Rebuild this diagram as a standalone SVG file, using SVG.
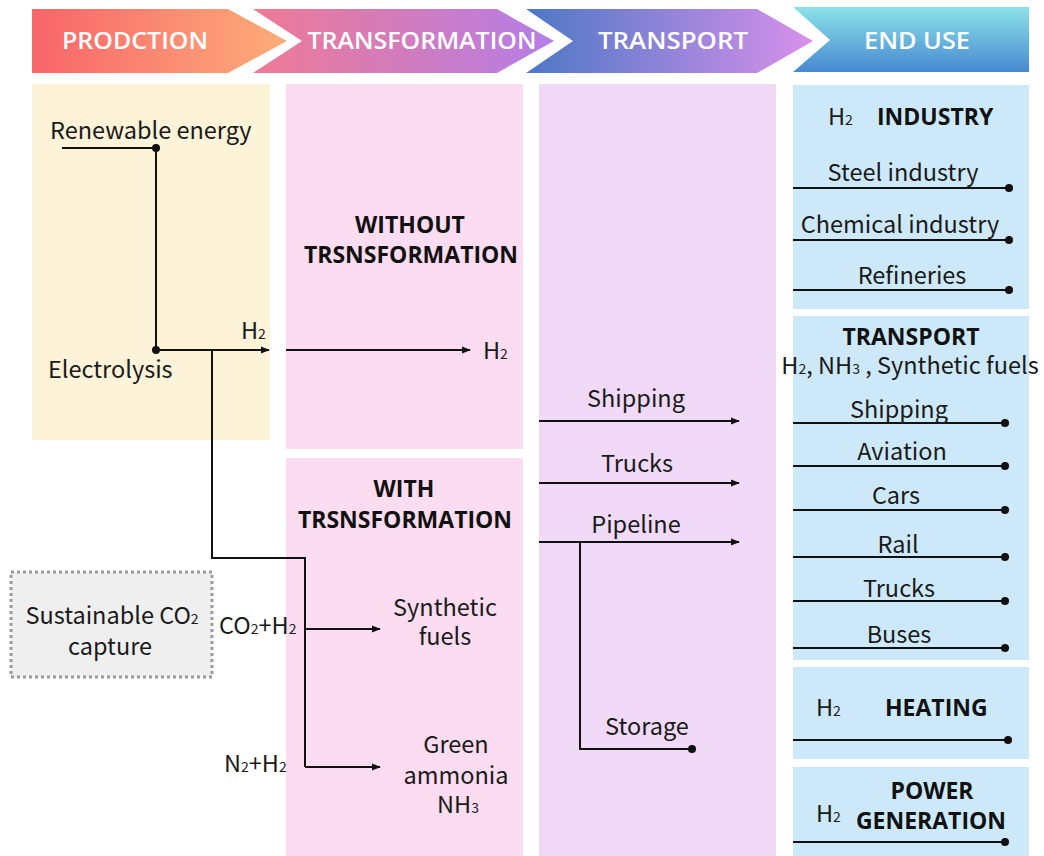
<svg xmlns="http://www.w3.org/2000/svg" width="1044" height="856" viewBox="0 0 1044 856">
<defs>
<linearGradient id="g1" x1="0" y1="0" x2="1" y2="0"><stop offset="0" stop-color="#f8656a"/><stop offset="1" stop-color="#fdad7a"/></linearGradient>
<linearGradient id="g2" x1="0" y1="0" x2="1" y2="0"><stop offset="0" stop-color="#ef7a94"/><stop offset="1" stop-color="#b47ee8"/></linearGradient>
<linearGradient id="g3" x1="0" y1="0" x2="1" y2="0"><stop offset="0" stop-color="#4d78c6"/><stop offset="1" stop-color="#d890ea"/></linearGradient>
<linearGradient id="g4" x1="0" y1="0" x2="0" y2="1"><stop offset="0" stop-color="#8ce3ea"/><stop offset="1" stop-color="#4788d0"/></linearGradient>
<marker id="arr" viewBox="0 0 10 10" refX="9" refY="5" markerWidth="9" markerHeight="9" markerUnits="userSpaceOnUse" orient="auto"><path d="M0,1 L10,5 L0,9 Z" fill="#111"/></marker>
<marker id="dot" viewBox="0 0 10 10" refX="5" refY="5" markerWidth="9" markerHeight="9" markerUnits="userSpaceOnUse"><circle cx="5" cy="5" r="4.5" fill="#111"/></marker>
</defs>
<style>
.hd{font-family:"Open Sans","Noto Sans",sans-serif;font-weight:600;font-size:23px;fill:#fff;text-anchor:middle}
.t{font-family:"Noto Sans CJK SC","Noto Sans",sans-serif;font-size:23.5px;fill:#1a1a1a}
.c{text-anchor:middle}
.b{font-family:"Open Sans","Noto Sans",sans-serif;font-weight:700;font-size:23px;fill:#111}
.s{font-size:14px}
.ln{fill:none;stroke:#111;stroke-width:2}
.a{marker-end:url(#arr)}
.d{marker-end:url(#dot)}
</style>
<rect width="1044" height="856" fill="#fff"/>

<g id="header">
<path d="M32,9 L228,9 L287,41 L228,73 L32,73 Z" fill="url(#g1)"/>
<path d="M253,9 L497,9 L554,41 L497,73 L253,73 L302,41 Z" fill="url(#g2)"/>
<path d="M526,9 L757,9 L813,41 L757,73 L526,73 L573,41 Z" fill="url(#g3)"/>
<path d="M793,7 L1029,7 L1029,72 L793,72 L830,40 Z" fill="url(#g4)"/>
<text class="hd" x="135" y="49" textLength="146" lengthAdjust="spacingAndGlyphs">PRODCTION</text>
<text class="hd" x="422" y="49" textLength="229" lengthAdjust="spacingAndGlyphs">TRANSFORMATION</text>
<text class="hd" x="673" y="49" textLength="150" lengthAdjust="spacingAndGlyphs">TRANSPORT</text>
<text class="hd" x="917" y="49" textLength="106" lengthAdjust="spacingAndGlyphs">END USE</text>
</g>

<g id="col-production"><rect x="32" y="84" width="238" height="356" fill="#fdf3d8"/></g>
<g id="col-transformation">
<rect x="286" y="84" width="237" height="365" fill="#fcdcf0"/>
<rect x="286" y="458" width="237" height="398" fill="#fcdcf0"/>
</g>
<g id="col-transport"><rect x="539" y="84" width="237" height="772" fill="#f0daf7"/></g>
<g id="col-enduse">
<rect x="793" y="85" width="236" height="224" fill="#cde9f9"/>
<rect x="793" y="316" width="236" height="344" fill="#cde9f9"/>
<rect x="793" y="667" width="236" height="92" fill="#cde9f9"/>
<rect x="793" y="767" width="236" height="89" fill="#cde9f9"/>
</g>

<g id="connectors">
<path class="ln" d="M62,148 L156,148 L156,350"/>
<path class="ln a" d="M156,350 L269,350"/>
<circle cx="156" cy="148" r="4" fill="#111"/>
<circle cx="156" cy="350" r="4" fill="#111"/>
<path class="ln a" d="M286,350 L470,350"/>
<path class="ln" d="M212,350 L212,558 L305,558 L305,767"/>
<path class="ln a" d="M305,629 L380,629"/>
<path class="ln a" d="M305,767 L380,767"/>
<path class="ln a" d="M539,421 L739,421"/>
<path class="ln a" d="M539,483 L739,483"/>
<path class="ln a" d="M539,542 L739,542"/>
<path class="ln d" d="M580,542 L580,749 L692,749"/>
<path class="ln d" d="M793,188 L1009,188"/>
<path class="ln d" d="M793,240 L1009,240"/>
<path class="ln d" d="M793,290 L1009,290"/>
<path class="ln d" d="M793,423 L1005,423"/>
<path class="ln d" d="M793,466 L1005,466"/>
<path class="ln d" d="M793,510 L1005,510"/>
<path class="ln d" d="M793,557 L1005,557"/>
<path class="ln d" d="M793,601 L1005,601"/>
<path class="ln d" d="M793,648 L1005,648"/>
<path class="ln d" d="M793,740 L1008,740"/>
<path class="ln d" d="M793,842 L1005,842"/>
</g>

<g id="renewable"><text class="t" x="50" y="139">Renewable energy</text></g>
<g id="electrolysis"><text class="t" x="48" y="378">Electrolysis</text></g>
<g id="h2-prod"><text class="t" x="241" y="339">H<tspan class="s">2</tspan></text></g>
<g id="without"><text class="b c"><tspan x="410" y="233">WITHOUT</tspan><tspan x="411" y="263">TRSNSFORMATION</tspan></text></g>
<g id="h2-out"><text class="t" x="483" y="359">H<tspan class="s">2</tspan></text></g>
<g id="with"><text class="b c"><tspan x="404" y="497">WITH</tspan><tspan x="405" y="528">TRSNSFORMATION</tspan></text></g>
<g id="co2-capture">
<rect x="11" y="572" width="201" height="105" fill="#efefef" stroke="#9a9a9a" stroke-width="3" stroke-dasharray="3,3"/>
<text class="t c"><tspan x="112" y="624">Sustainable CO<tspan class="s">2</tspan></tspan><tspan x="110" y="655">capture</tspan></text>
</g>
<g id="co2h2"><text class="t" x="219" y="634">CO<tspan class="s">2</tspan>+H<tspan class="s">2</tspan></text></g>
<g id="n2h2"><text class="t" x="224" y="772">N<tspan class="s">2</tspan>+H<tspan class="s">2</tspan></text></g>
<g id="synthetic"><text class="t c"><tspan x="445" y="616">Synthetic</tspan><tspan x="445" y="645">fuels</tspan></text></g>
<g id="ammonia"><text class="t c"><tspan x="456" y="753">Green</tspan><tspan x="456" y="784">ammonia</tspan><tspan x="458" y="813">NH<tspan class="s">3</tspan></tspan></text></g>
<g id="tr-shipping"><text class="t c" x="636" y="407">Shipping</text></g>
<g id="tr-trucks"><text class="t c" x="637" y="472">Trucks</text></g>
<g id="tr-pipeline"><text class="t c" x="636" y="533">Pipeline</text></g>
<g id="tr-storage"><text class="t c" x="647" y="735">Storage</text></g>

<g id="industry">
<text class="t" x="828" y="125">H<tspan class="s">2</tspan></text>
<text class="b" x="877" y="125">INDUSTRY</text>
<text class="t c" x="903" y="181">Steel industry</text>
<text class="t c" x="900" y="233">Chemical industry</text>
<text class="t c" x="912" y="284">Refineries</text>
</g>
<g id="transport-use">
<text class="t c"><tspan class="b" x="911" y="345">TRANSPORT</tspan><tspan x="910" y="374">H<tspan class="s">2</tspan>, NH<tspan class="s">3</tspan> , Synthetic fuels</tspan></text>
<text class="t c" x="899" y="418">Shipping</text>
<text class="t c" x="902" y="460">Aviation</text>
<text class="t c" x="896" y="504">Cars</text>
<text class="t c" x="898" y="553">Rail</text>
<text class="t c" x="899" y="597">Trucks</text>
<text class="t c" x="899" y="643">Buses</text>
</g>
<g id="heating">
<text class="t" x="816" y="716">H<tspan class="s">2</tspan></text>
<text class="b" x="885" y="716">HEATING</text>
</g>
<g id="power">
<text class="t" x="816" y="822">H<tspan class="s">2</tspan></text>
<text class="b c"><tspan x="932" y="799">POWER</tspan><tspan x="931" y="829">GENERATION</tspan></text>
</g>
</svg>
